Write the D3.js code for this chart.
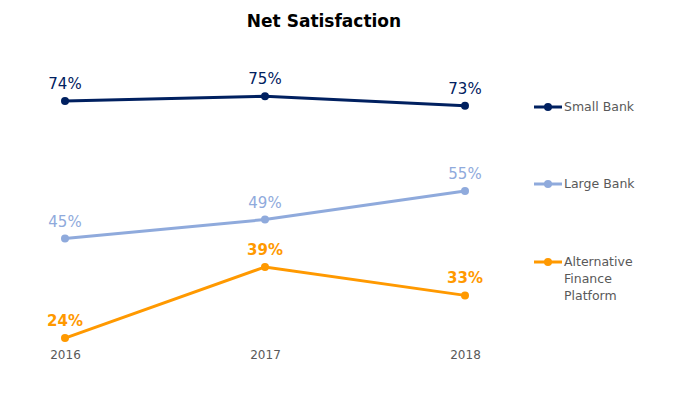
<!DOCTYPE html>
<html>
<head>
<meta charset="utf-8">
<script src="https://cdn.jsdelivr.net/npm/d3@7"></script>
<style>
  body { margin: 0; background: #fff; }
  text { font-family: "DejaVu Sans", sans-serif; }
</style>
</head>
<body>
<div id="chart"></div>
<script>
  var years = ['2016', '2017', '2018'];
  var smallBank = [74, 75, 73];
  var largeBank = [45, 49, 55];
  var altFinance = [24, 39, 33];
  var seriesNames = ['Small Bank', 'Large Bank', 'Alternative Finance Platform'];
  var colors = ['#002060', '#8faadc', '#ff9900'];

  var series = [
    {name: seriesNames[0], values: smallBank, color: colors[0], bold: false, legendY: 107, lines: ['Small Bank']},
    {name: seriesNames[1], values: largeBank, color: colors[1], bold: false, legendY: 184, lines: ['Large Bank']},
    {name: seriesNames[2], values: altFinance, color: colors[2], bold: true, legendY: 262, lines: ['Alternative', 'Finance', 'Platform']}
  ];

  var width = 676, height = 393;
  var svg = d3.select('#chart')
    .append('svg')
    .attr('width', width)
    .attr('height', height);

  svg.append('text')
    .attr('x', 324)
    .attr('y', 27)
    .attr('text-anchor', 'middle')
    .attr('font-size', 17)
    .attr('font-weight', 'bold')
    .attr('fill', '#000')
    .text('Net Satisfaction');

  var xScale = d3.scalePoint()
    .domain(years)
    .range([65, 465]);
  var yScale = d3.scaleLinear()
    .domain([20, 80])
    .range([357, 72.6]);

  var xAxis = svg.append('g')
    .attr('transform', 'translate(0,350)')
    .call(d3.axisBottom(xScale).tickSize(0).tickPadding(0));
  xAxis.select('.domain').remove();
  xAxis.selectAll('text')
    .attr('font-size', 12)
    .attr('fill', '#595959')
    .attr('font-family', '"DejaVu Sans", sans-serif')
    .attr('dy', '0.71em');

  var line = d3.line()
    .x(function(d, i) { return xScale(years[i]); })
    .y(function(d) { return yScale(d); });

  series.forEach(function(s) {
    var g = svg.append('g');
    g.append('path')
      .attr('d', line(s.values))
      .attr('fill', 'none')
      .attr('stroke', s.color)
      .attr('stroke-width', 3);
    g.selectAll('circle')
      .data(s.values)
      .enter()
      .append('circle')
      .attr('cx', function(d, i) { return xScale(years[i]); })
      .attr('cy', function(d) { return yScale(d); })
      .attr('r', 4)
      .attr('fill', s.color);
    g.selectAll('.lbl')
      .data(s.values)
      .enter()
      .append('text')
      .attr('class', 'lbl')
      .attr('x', function(d, i) { return xScale(years[i]); })
      .attr('y', function(d) { return yScale(d) - 12; })
      .attr('text-anchor', 'middle')
      .attr('font-size', 15)
      .attr('font-weight', s.bold ? 'bold' : 'normal')
      .attr('fill', s.color)
      .text(function(d) { return d + '%'; });

    var lg = svg.append('g').attr('transform', 'translate(534,' + s.legendY + ')');
    lg.append('line')
      .attr('x1', 0).attr('x2', 28)
      .attr('stroke', s.color)
      .attr('stroke-width', 3);
    lg.append('circle')
      .attr('cx', 14).attr('r', 4)
      .attr('fill', s.color);
    lg.selectAll('text')
      .data(s.lines)
      .enter()
      .append('text')
      .attr('x', 30)
      .attr('y', function(d, i) { return i * 17; })
      .attr('dy', '0.35em')
      .attr('font-size', 12.5)
      .attr('fill', '#595959')
      .text(function(d) { return d; });
  });
</script>
</body>
</html>
